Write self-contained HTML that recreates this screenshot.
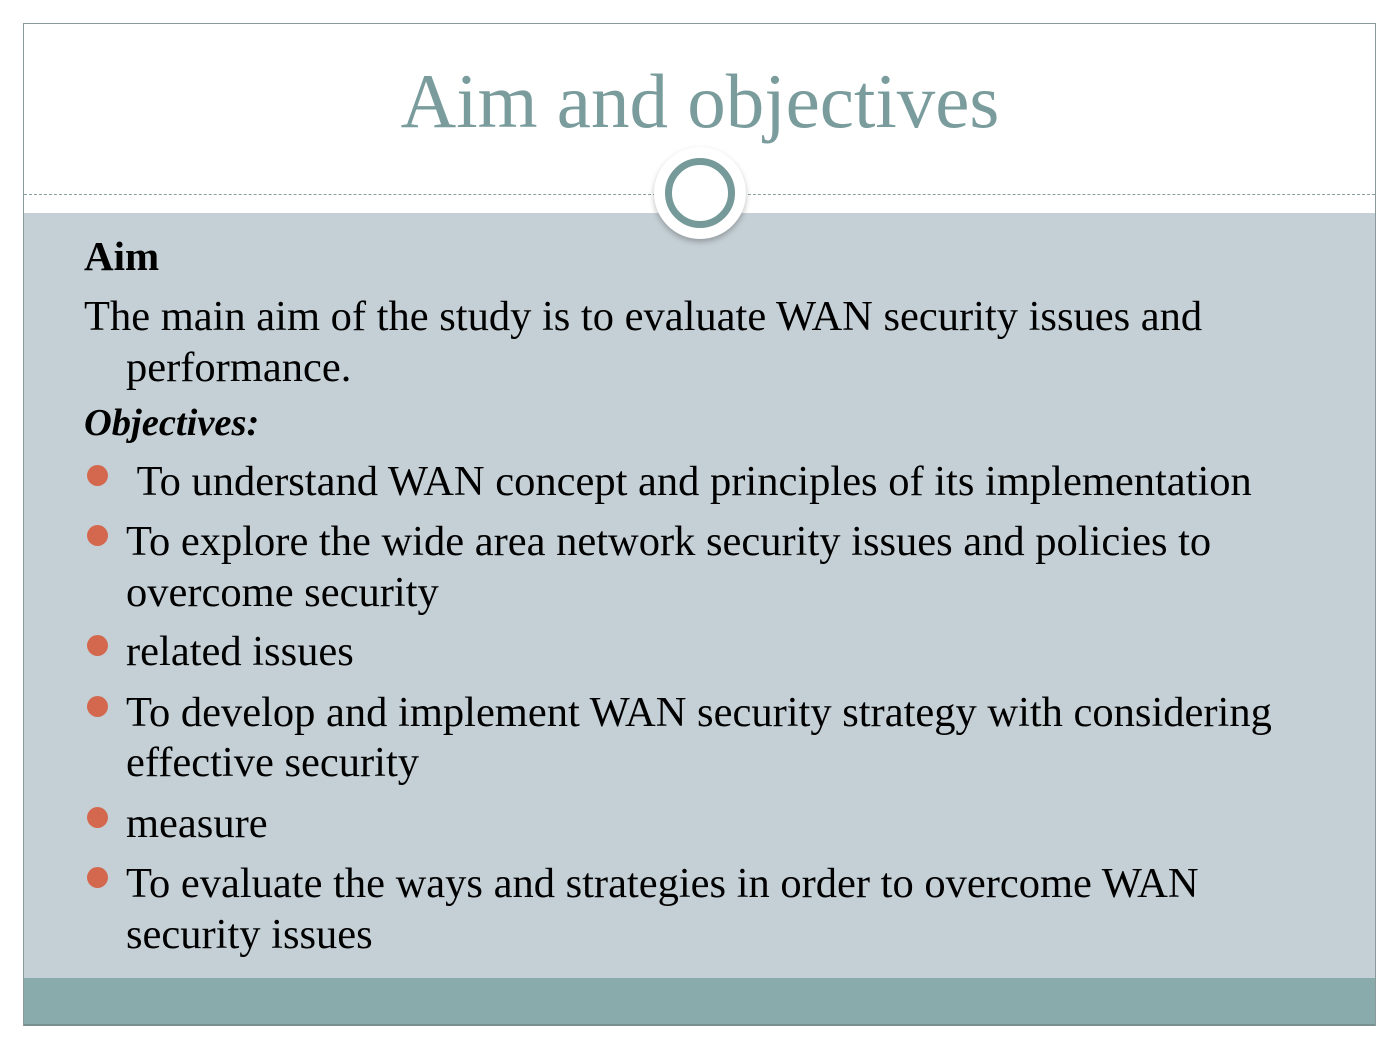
<!DOCTYPE html>
<html><head><style>
body{margin:0;width:1400px;height:1050px;background:#fff;position:relative;overflow:hidden;font-family:"Liberation Serif",serif;}
.frame{position:absolute;left:23px;top:23px;width:1353px;height:1003px;border:1px solid #8a9a9a;box-sizing:border-box;}
.gray{position:absolute;left:24px;top:213px;width:1351px;height:765px;background:#c5d0d6;}
.bar{position:absolute;left:24px;top:978px;width:1351px;height:48px;background:#89abab;border-bottom:2px solid #7a9090;box-sizing:border-box;}
.dash{position:absolute;left:24px;top:194px;width:1351px;border-top:1px dashed #8aa0a0;}
.title{position:absolute;left:0;width:1400px;top:56px;text-align:center;font-size:77px;color:#7a9c9c;line-height:90px;}
.t{position:absolute;font-size:42.5px;color:#000;white-space:nowrap;line-height:1;}
.b{position:absolute;left:87px;width:21px;height:21px;border-radius:50%;background:#d4684e;}
</style></head><body>
<div class="frame"></div>
<div class="gray"></div>
<div class="bar"></div>
<div class="dash"></div>
<div class="title">Aim and objectives</div>
<div style="position:absolute;left:654px;top:147px;width:92px;height:92px;border-radius:50%;background:#fff;box-shadow:0 3px 6px rgba(0,0,0,0.25);"></div>
<div style="position:absolute;left:665px;top:158px;width:70px;height:70px;border-radius:50%;border:7px solid #769a9a;box-sizing:border-box;background:#fff;"></div>
<div class="t" style="left:84px;top:236px;font-weight:bold;font-size:41px">Aim</div>
<div class="t" style="left:84px;top:296px">The main aim of the study is to evaluate WAN security issues and</div>
<div class="t" style="left:126px;top:347px">performance.</div>
<div class="t" style="left:84px;top:404px;font-weight:bold;font-style:italic;font-size:38.5px">Objectives:</div>
<div class="b" style="top:465px"></div>
<div class="t" style="left:126px;top:461px">&nbsp;To understand WAN concept and principles of its implementation</div>
<div class="b" style="top:525px"></div>
<div class="t" style="left:126px;top:521px">To explore the wide area network security issues and policies to</div>
<div class="t" style="left:126px;top:572px">overcome security</div>
<div class="b" style="top:635px"></div>
<div class="t" style="left:126px;top:631px">related issues</div>
<div class="b" style="top:696px"></div>
<div class="t" style="left:126px;top:692px">To develop and implement WAN security strategy with considering</div>
<div class="t" style="left:126px;top:742px">effective security</div>
<div class="b" style="top:807px"></div>
<div class="t" style="left:126px;top:803px">measure</div>
<div class="b" style="top:867px"></div>
<div class="t" style="left:126px;top:863px">To evaluate the ways and strategies in order to overcome WAN</div>
<div class="t" style="left:126px;top:914px">security issues</div>
</body></html>
